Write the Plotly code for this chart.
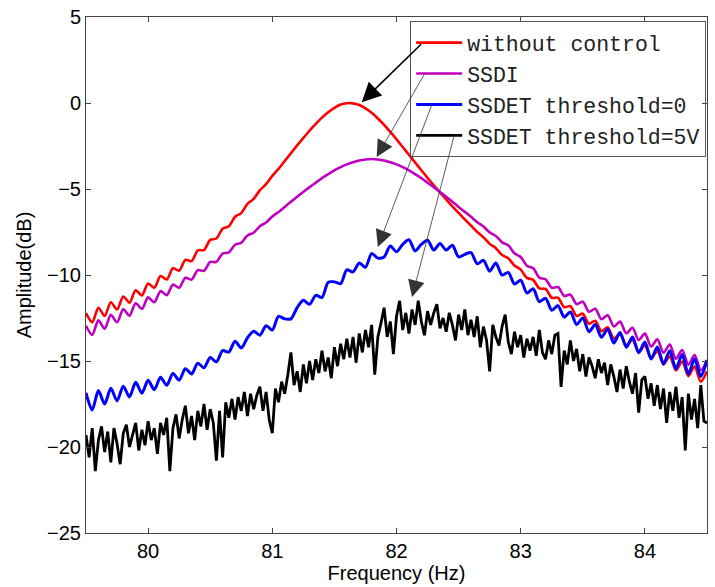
import numpy as np
import plotly.graph_objects as go

# ---------------- data ----------------
FREQ_START = 79.5
STEP_SMOOTH = 0.05   # sampling of the three smoother curves
STEP_BLACK = 0.025   # sampling of the noisy threshold=5V curve

without_control = [
    -12.22, -12.74, -11.91, -12.38, -11.58, -12.01, -11.25, -11.61, -10.89, -11.19,
    -10.49, -10.74, -10.06, -10.26, -9.61, -9.75, -9.12, -9.19, -8.57, -8.55,
    -7.96, -7.88, -7.31, -7.16, -6.61, -6.40, -5.86, -5.57, -5.07, -4.72,
    -4.24, -3.83, -3.37, -2.92, -2.46, -2.03, -1.60, -1.21, -0.85, -0.54,
    -0.28, -0.09, -0.01, -0.02, -0.12, -0.31, -0.57, -0.90, -1.27, -1.68,
    -2.11, -2.56, -3.01, -3.46, -3.91, -4.35, -4.78, -5.20, -5.61, -6.01,
    -6.39, -6.77, -7.13, -7.50, -7.81, -8.19, -8.44, -8.84, -9.03, -9.45,
    -9.69, -10.17, -10.28, -10.78, -10.81, -11.33, -11.32, -11.87, -11.81, -12.38,
    -12.25, -12.84, -12.66, -13.27, -13.04, -13.69, -13.41, -14.09, -13.76, -14.47,
    -14.10, -14.84, -14.42, -15.20, -14.73, -15.55, -15.03, -15.88, -15.32, -16.20,
    -15.60]

ssdi = [
    -12.95, -13.48, -12.64, -13.12, -12.32, -12.75, -11.99, -12.36, -11.64, -11.97,
    -11.30, -11.58, -10.94, -11.17, -10.56, -10.74, -10.16, -10.27, -9.72, -9.76,
    -9.24, -9.24, -8.75, -8.69, -8.24, -8.13, -7.70, -7.54, -7.16, -6.95,
    -6.60, -6.34, -6.04, -5.74, -5.45, -5.17, -4.89, -4.63, -4.37, -4.14,
    -3.92, -3.73, -3.57, -3.44, -3.34, -3.28, -3.26, -3.28, -3.34, -3.44,
    -3.57, -3.73, -3.92, -4.14, -4.37, -4.63, -4.89, -5.17, -5.45, -5.74,
    -6.04, -6.33, -6.62, -6.93, -7.18, -7.52, -7.73, -8.10, -8.27, -8.74,
    -8.95, -9.46, -9.60, -10.15, -10.25, -10.74, -10.70, -11.22, -11.14, -11.69,
    -11.56, -12.14, -11.96, -12.57, -12.34, -12.99, -12.71, -13.39, -13.07, -13.78,
    -13.41, -14.16, -13.74, -14.52, -14.05, -14.87, -14.36, -15.21, -14.65, -15.54,
    -14.94]

ssdet_0 = [
    -16.85, -17.85, -16.72, -17.50, -16.59, -17.32, -16.47, -17.09, -16.24, -16.87,
    -16.12, -16.67, -15.95, -16.41, -15.73, -16.11, -15.45, -15.75, -15.13, -15.39,
    -14.80, -15.05, -14.40, -14.48, -13.85, -14.25, -13.65, -13.27, -13.50, -12.95,
    -13.20, -12.40, -12.55, -12.55, -11.90, -11.47, -11.70, -11.18, -11.30, -10.42,
    -10.40, -10.50, -9.70, -9.82, -9.30, -9.55, -8.75, -9.02, -8.95, -8.32,
    -8.65, -8.22, -7.95, -8.60, -8.22, -7.98, -8.55, -8.17, -8.55, -8.27,
    -8.95, -8.80, -8.70, -9.35, -9.15, -9.78, -9.30, -10.00, -9.85, -10.53,
    -10.30, -11.05, -10.80, -11.55, -11.35, -12.05, -11.78, -12.45, -12.15, -12.88,
    -12.50, -13.30, -12.88, -13.62, -13.15, -13.95, -13.35, -14.20, -13.60, -14.52,
    -13.90, -14.88, -14.18, -15.17, -14.40, -15.45, -14.62, -15.75, -14.88, -15.90,
    -14.95]

ssdet_5v = [
    -19.3, -20.6, -18.9, -21.4, -19.6, -18.8, -20.3, -19.1,
    -20.9, -18.9, -19.8, -21.0, -19.2, -18.7, -20.0, -19.3,
    -18.6, -20.2, -19.0, -19.9, -18.5, -19.6, -18.9, -20.4,
    -18.6, -19.3, -18.3, -21.4, -18.9, -18.1, -19.5, -18.4,
    -17.6, -19.2, -18.2, -19.6, -17.9, -18.8, -17.5, -19.0,
    -17.8, -18.6, -20.8, -17.9, -20.6, -17.4, -18.3, -17.2,
    -18.4, -17.1, -17.9, -16.8, -18.2, -16.9, -17.8, -17.0,
    -16.5, -17.9, -16.8, -18.4, -19.2, -16.6, -17.4, -16.2,
    -16.9, -15.8, -14.5, -16.4, -15.6, -16.8, -15.2, -16.3,
    -15.0, -16.1, -14.9, -15.7, -14.4, -15.6, -14.8, -16.0,
    -14.2, -15.3, -14.0, -14.9, -13.7, -14.8, -13.6, -15.1,
    -13.4, -14.5, -13.2, -14.2, -12.9, -15.8, -13.6, -12.8,
    -11.9, -13.6, -12.7, -14.6, -12.4, -11.5, -13.2, -12.2,
    -13.4, -12.0, -12.9, -11.5, -12.7, -13.5, -12.1, -12.9,
    -12.2, -11.7, -13.1, -12.5, -13.3, -12.2, -12.9, -13.8,
    -12.3, -13.2, -12.0, -13.5, -12.6, -13.6, -12.4, -14.2,
    -13.0, -13.8, -15.6, -12.9, -13.6, -14.1, -13.0, -12.3,
    -13.9, -14.6, -13.3, -14.2, -13.5, -14.8, -13.7, -14.4,
    -13.6, -14.7, -13.2, -14.5, -14.9, -13.8, -14.6, -13.5,
    -13.4, -16.5, -14.4, -15.2, -13.8, -15.0, -14.3, -15.6,
    -14.6, -15.9, -14.8, -15.3, -16.0, -14.9, -15.7, -15.1,
    -16.4, -15.2, -15.9, -16.8, -15.5, -16.6, -15.3, -16.2,
    -16.9, -15.7, -18.0, -16.1, -15.9, -17.2, -16.3, -17.6,
    -16.4, -17.8, -16.6, -18.6, -16.8, -17.9, -16.5, -18.3,
    -17.1, -20.2, -16.9, -18.4, -17.2, -18.9, -16.4, -18.5,
    -18.6]

SERIES_NAMES = ["without control", "SSDI", "SSDET threshold=0", "SSDET threshold=5V"]
X_TICKS = [80, 81, 82, 83, 84]
Y_TICKS = [-25, -20, -15, -10, -5, 0, 5]

# arrows: (tip_x, tip_y, tail_x, tail_y) in data units, pointing legend -> curve
ARROWS = [
    (81.72, 0.05, 82.21, 3.50),
    (81.84, -3.14, 82.23, 1.74),
    (81.85, -8.37, 82.29, 0.00),
    (82.125, -11.28, 82.47, -1.74),
]

# ---------------- figure ----------------
freq_smooth = np.round(FREQ_START + STEP_SMOOTH * np.arange(len(without_control)), 4)
freq_black = np.round(FREQ_START + STEP_BLACK * np.arange(len(ssdet_5v)), 4)

colors = ["#FF0000", "#BF00BF", "#0000FF", "#000000"]
widths = [2.6, 2.6, 3.0, 2.8]
series = [(freq_smooth, without_control), (freq_smooth, ssdi),
          (freq_smooth, ssdet_0), (freq_black, ssdet_5v)]
shapes_line = ["spline", "spline", "spline", "linear"]

fig = go.Figure()
for (xv, yv), name, c, w, sh in zip(series, SERIES_NAMES, colors, widths, shapes_line):
    fig.add_trace(go.Scatter(
        x=xv, y=yv, mode="lines", name=name,
        line=dict(color=c, width=w, shape=sh, smoothing=0.8 if sh == "spline" else None),
    ))

sans = "Liberation Sans, Arial, Helvetica, sans-serif"
axis_common = dict(
    showline=True, linecolor="#444", linewidth=1, mirror="ticks",
    ticks="inside", ticklen=5, tickcolor="#444", tickwidth=1,
    showgrid=False, zeroline=False, automargin=False,
    ticklabeloverflow="allow",
    tickfont=dict(family=sans, size=20, color="#000"),
)

fig.update_layout(
    width=715, height=587,
    margin=dict(l=86, r=8, t=17, b=54, autoexpand=False),
    paper_bgcolor="white", plot_bgcolor="white",
    xaxis=dict(range=[79.5, 84.5], tickvals=X_TICKS,
               title=dict(text="Frequency (Hz)", font=dict(family=sans, size=20, color="#000"),
                          standoff=3),
               **axis_common),
    yaxis=dict(range=[-25, 5], tickvals=Y_TICKS,
               title=dict(text="Amplitude(dB)", font=dict(family=sans, size=20, color="#000"),
                          standoff=10),
               **axis_common),
    legend=dict(x=0.522, y=0.992, xanchor="left", yanchor="top",
                bgcolor="rgba(255,255,255,0)", bordercolor="#555", borderwidth=1,
                font=dict(family="Liberation Mono, Courier New, monospace", size=21.5, color="#222"),
                itemwidth=46, tracegroupgap=0),
    showlegend=True,
)

for i, (tx, ty, sx, sy) in enumerate(ARROWS):
    thick = i == 0
    fig.add_annotation(
        x=tx, y=ty, ax=sx, ay=sy, xref="x", yref="y", axref="x", ayref="y",
        text="", showarrow=True, arrowhead=2,
        arrowwidth=1.6 if thick else 0.8,
        arrowsize=2.4 if thick else 4.2,
        arrowcolor="#000" if thick else "#333",
    )

# remove the browser's default 8px page margin so the figure fills the window
fig.write_html("out.html", config={"displayModeBar": False},
               post_script="document.body.style.margin='0';document.body.style.overflow='hidden';")
